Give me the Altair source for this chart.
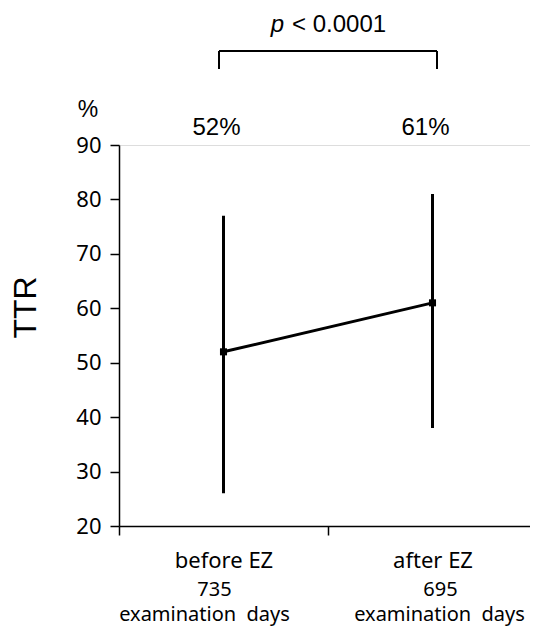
import altair as alt
import pandas as pd

groups = ["before EZ", "after EZ"]
means = [52, 61]
lows = [26, 38]
highs = [77, 81]
days = [735, 695]
pct_labels = ["52%", "61%"]
y_ticks = [20, 30, 40, 50, 60, 70, 80, 90]
p_text = "< 0.0001"
days_word = "examination\u00a0 days"

df = pd.DataFrame({
    "group": groups,
    "mean": means,
    "low": lows,
    "high": highs,
    "pct": pct_labels,
    "n": [str(d) for d in days],
    "w": [days_word, days_word],
})

W, H = 411, 381
LAB = "Noto Sans"
ARIAL = "Liberation Sans"

x = alt.X("group:N", sort=groups,
          scale=alt.Scale(domain=groups, paddingInner=0, paddingOuter=0, range=[0, 418]),
          axis=alt.Axis(title=None, labelAngle=0, labelFont=LAB, labelFontSize=22, labelColor="black",
                        labelPadding=15, tickSize=9, tickWidth=1.5, tickColor="black",
                        domainColor="black", domainWidth=1.5, tickBand="extent"))
y = alt.Y("mean:Q", scale=alt.Scale(domain=[20, 90], nice=False, zero=False),
          axis=alt.Axis(values=y_ticks, title="TTR", titleFont=ARIAL, titleFontSize=32,
                        titleFontWeight="normal", titleColor="black", titleAngle=270,
                        titleX=-94, titleY=162, titleAlign="center", titleBaseline="middle",
                        labelFont=LAB, labelFontSize=22, labelColor="black", labelPadding=9,
                        tickSize=9, tickWidth=1.5, tickColor="black", domainColor="black",
                        domainWidth=1.5, grid=False))

base = alt.Chart(df)

errbars = base.mark_rule(color="black", strokeWidth=3).encode(
    x=x, y=alt.Y("low:Q"), y2="high:Q")
line = base.mark_line(color="black", strokeWidth=3).encode(x=x, y=y)
pts = base.mark_square(color="black", size=50, opacity=1).encode(x=x, y=y)

pct = base.mark_text(font=ARIAL, fontSize=24, color="black", baseline="middle", dx=-7).encode(
    x=x, y=alt.value(-17), text="pct:N")


def day_text(i, field, dx, ypos):
    return base.transform_filter(alt.datum.group == groups[i]).mark_text(
        font=LAB, fontSize=20, color="black", baseline="alphabetic", dx=dx
    ).encode(x=x, y=alt.value(ypos), text=f"{field}:N")


days_layers = [
    day_text(0, "n", -9, 451), day_text(0, "w", -19, 476),
    day_text(1, "n", 8, 451), day_text(1, "w", 7, 476),
]

br = pd.DataFrame({"a": [groups[0]], "b": [groups[1]]})
bracket_h = alt.Chart(br).mark_rule(color="black", strokeWidth=2, xOffset=-4.5, x2Offset=4.5).encode(
    x=alt.X("a:N", sort=groups), x2="b:N", y=alt.value(-94))
bracket_l = alt.Chart(br).mark_rule(color="black", strokeWidth=2, xOffset=-4.5).encode(
    x=alt.X("a:N", sort=groups), y=alt.value(-94), y2=alt.value(-76))
bracket_r = alt.Chart(br).mark_rule(color="black", strokeWidth=2, xOffset=4.5).encode(
    x=alt.X("b:N", sort=groups), y=alt.value(-94), y2=alt.value(-76))

ptxt = pd.DataFrame({"p": ["p"], "rest": [p_text]})
p_it = alt.Chart(ptxt).mark_text(font=ARIAL, fontSize=24, fontStyle="italic", color="black",
                                 align="right", baseline="middle").encode(
    x=alt.value(165), y=alt.value(-120), text="p:N")
p_rest = alt.Chart(ptxt).mark_text(font=ARIAL, fontSize=24, color="black",
                                   align="left", baseline="middle").encode(
    x=alt.value(173), y=alt.value(-120), text="rest:N")

pcts = alt.Chart(pd.DataFrame({"t": ["%"]})).mark_text(font=ARIAL, fontSize=23, color="black",
                                                       baseline="middle").encode(
    x=alt.value(-31), y=alt.value(-35), text="t:N")

chart = alt.layer(errbars, line, pts, pct, *days_layers,
                  bracket_h, bracket_l, bracket_r, p_it, p_rest, pcts).properties(
    width=W, height=H,
    autosize=alt.AutoSizeParams(type="none"),
    padding={"left": 111, "top": 137, "right": 0, "bottom": 100},
).configure_view(stroke=None).configure(background="white")

chart.save("out.html", embed_options={"renderer": "svg", "actions": False})
